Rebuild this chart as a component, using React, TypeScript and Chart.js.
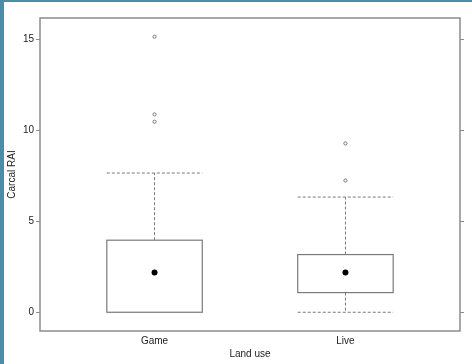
import React, { useEffect, useRef } from "react";
import { Chart, registerables } from "chart.js";

Chart.register(...registerables);

// Land-use groups and the summary statistics of Carcal RAI per group
const categories = ["Game", "Live"];
const q1 = [0, 1.08];
const q3 = [3.96, 3.17];
const whiskerLow = [0, 0];
const whiskerHigh = [7.65, 6.33];
const centre = [2.18, 2.18];
const outliersGame = [15.14, 10.87, 10.47];
const outliersLive = [9.28, 7.24];
const yTicks = [0, 5, 10, 15];

const BOX_HALF = 0.25;
const LINE = "#7a7a7a";
const TEXT = "#222222";
const FONT = "'Liberation Sans', Arial, sans-serif";

const boxPlugin = {
  id: "boxes",
  beforeDraw(chart: any) {
    const ctx = chart.ctx;
    ctx.save();
    ctx.fillStyle = "#4b8ca8";
    ctx.fillRect(0, 0, chart.width, 2);
    ctx.fillRect(0, 0, 4, chart.height);
    ctx.restore();
  },
  afterDatasetsDraw(chart: any) {
    const ctx = chart.ctx;
    const xs = chart.scales.x;
    const ys = chart.scales.y;
    ctx.save();
    categories.forEach((_, i) => {
      const c = xs.getPixelForValue(i + 1);
      const l = xs.getPixelForValue(i + 1 - BOX_HALF);
      const r = xs.getPixelForValue(i + 1 + BOX_HALF);
      const yq1 = ys.getPixelForValue(q1[i]);
      const yq3 = ys.getPixelForValue(q3[i]);
      const ylo = ys.getPixelForValue(whiskerLow[i]);
      const yhi = ys.getPixelForValue(whiskerHigh[i]);
      ctx.strokeStyle = LINE;
      ctx.lineWidth = 1;
      ctx.setLineDash([3, 2]);
      ctx.beginPath();
      ctx.moveTo(c, yq3);
      ctx.lineTo(c, yhi);
      ctx.moveTo(l, yhi);
      ctx.lineTo(r, yhi);
      if (q1[i] > whiskerLow[i]) {
        ctx.moveTo(c, yq1);
        ctx.lineTo(c, ylo);
        ctx.moveTo(l, ylo);
        ctx.lineTo(r, ylo);
      }
      ctx.stroke();
      ctx.setLineDash([]);
      ctx.lineWidth = 1.2;
      ctx.strokeRect(l, yq3, r - l, yq1 - yq3);
    });
    ctx.restore();
  },
  afterDraw(chart: any) {
    const { left, top, right, bottom } = chart.chartArea;
    const ctx = chart.ctx;
    ctx.save();
    ctx.strokeStyle = "#8c8c8c";
    ctx.lineWidth = 1.5;
    ctx.strokeRect(left, top, right - left, bottom - top);
    ctx.restore();
  },
};

export default function App() {
  const ref = useRef<HTMLCanvasElement>(null);

  useEffect(() => {
    document.body.style.margin = "0";
    const canvas = ref.current!;
    const chart = new Chart(canvas, {
      type: "scatter",
      data: {
        datasets: [
          {
            label: "centre",
            data: centre.map((v, i) => ({ x: i + 1, y: v })),
            pointRadius: 3,
            pointBackgroundColor: "#000000",
            pointBorderColor: "#000000",
            pointBorderWidth: 0,
          },
          {
            label: "Game outliers",
            data: outliersGame.map((v) => ({ x: 1, y: v })),
            pointRadius: 1.6,
            pointBackgroundColor: "#ffffff",
            pointBorderColor: "#777777",
            pointBorderWidth: 1,
          },
          {
            label: "Live outliers",
            data: outliersLive.map((v) => ({ x: 2, y: v })),
            pointRadius: 1.6,
            pointBackgroundColor: "#ffffff",
            pointBorderColor: "#777777",
            pointBorderWidth: 1,
          },
        ],
      },
      options: {
        animation: false,
        responsive: false,
        devicePixelRatio: 1,
        layout: { padding: { top: 18, left: 0, right: 0, bottom: 0 } },
        plugins: { legend: { display: false }, tooltip: { enabled: false } },
        scales: {
          x: {
            type: "linear",
            min: 0.4,
            max: 2.6,
            afterBuildTicks: (s: any) => {
              s.ticks = categories.map((_, i) => ({ value: i + 1 }));
            },
            afterFit: (s: any) => {
              s.height = 33;
            },
            ticks: {
              color: TEXT,
              font: { family: FONT, size: 10 },
              padding: 4,
              maxRotation: 0,
              callback: (v: any) => categories[Math.round(v) - 1] ?? "",
            },
            grid: { display: false, drawTicks: false },
            border: { display: false },
            title: {
              display: true,
              text: "Land use",
              color: TEXT,
              font: { family: FONT, size: 10 },
              padding: { top: 4, bottom: 4 },
            },
          },
          y: {
            type: "linear",
            position: "left",
            min: -1.03,
            max: 16.17,
            afterBuildTicks: (s: any) => {
              s.ticks = yTicks.map((v) => ({ value: v }));
            },
            afterFit: (s: any) => {
              s.width = 40;
            },
            ticks: {
              color: TEXT,
              font: { family: FONT, size: 10 },
              padding: 2,
            },
            grid: {
              drawOnChartArea: false,
              drawTicks: true,
              tickLength: 4,
              color: "#8c8c8c",
              lineWidth: 1,
            },
            border: { display: false },
            title: {
              display: true,
              text: "Carcal RAI",
              color: TEXT,
              font: { family: FONT, size: 10 },
              padding: { top: 6, bottom: 6 },
            },
          },
          y2: {
            type: "linear",
            position: "right",
            min: -1.03,
            max: 16.17,
            afterBuildTicks: (s: any) => {
              s.ticks = yTicks.map((v) => ({ value: v }));
            },
            afterFit: (s: any) => {
              s.width = 12;
            },
            ticks: { display: false },
            grid: {
              drawOnChartArea: false,
              drawTicks: true,
              tickLength: 4,
              color: "#8c8c8c",
              lineWidth: 1,
            },
            border: { display: false },
          },
        },
      },
      plugins: [boxPlugin],
    } as any);
    return () => chart.destroy();
  }, []);

  return (
    <div style={{ width: 472, height: 364, background: "#ffffff" }}>
      <canvas ref={ref} width={472} height={364} style={{ display: "block" }} />
    </div>
  );
}
